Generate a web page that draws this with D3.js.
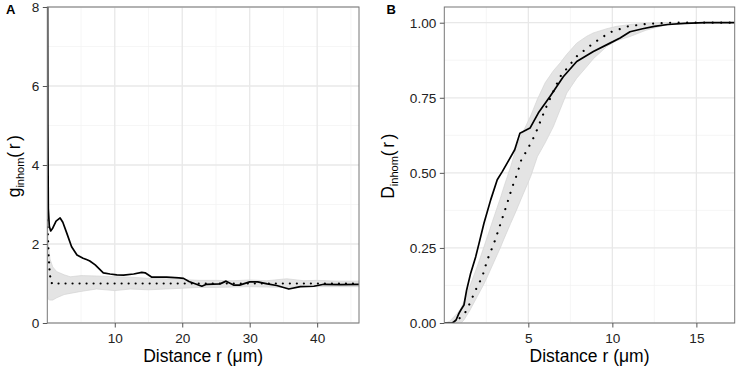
<!DOCTYPE html>
<html>
<head>
<meta charset="utf-8">
<script src="https://cdn.jsdelivr.net/npm/d3@7"></script>
<style>
  body { margin: 0; background: #fff; }
  text { font-family: "Liberation Sans", Arial, sans-serif; }
</style>
</head>
<body>
<script>
var w = 737;  // width of the whole figure
var h = 369;  // height of the whole figure

// ---- Panel A data: g_inhom(r) ----
var rA_obs = [0, 0.08, 0.15, 0.3, 0.5, 0.8, 1.3, 1.9, 2.3, 2.9, 3.6, 4.4, 5.3, 5.9, 6.3, 7.1, 8.3, 9.3, 10.3, 11.3, 12.8, 14.0, 14.5, 15.5, 17.7, 19.5, 20.2, 21.0, 22.9, 23.6, 25.6, 26.5, 27.6, 28.5, 30.0, 31.2, 32.6, 34.0, 35.8, 37.5, 39.5, 41.0, 43.5, 46.2];
var gA_obs = [12, 5.0, 2.9, 2.45, 2.33, 2.4, 2.58, 2.66, 2.55, 2.27, 1.93, 1.72, 1.64, 1.6, 1.57, 1.47, 1.27, 1.24, 1.22, 1.21, 1.24, 1.28, 1.27, 1.16, 1.16, 1.14, 1.13, 1.05, 0.93, 0.98, 0.99, 1.06, 0.96, 0.96, 1.04, 1.04, 0.99, 0.95, 0.86, 0.92, 0.93, 0.98, 0.97, 0.98];

var rA_theo = [0, 0.1, 0.2, 0.35, 0.5, 0.7, 46.2];
var gA_theo = [2.6, 2.2, 1.7, 1.3, 1.08, 1.0, 1.0];

var rA_env = [0, 0.15, 0.4, 0.8, 1.4, 2.5, 3.4, 5, 7.3, 10, 12.3, 15, 17.5, 20, 22.5, 25, 27.5, 30, 32.5, 35.5, 38, 40, 43, 46.2];
var gA_hi = [2.8, 2.0, 1.62, 1.42, 1.3, 1.22, 1.17, 1.2, 1.19, 1.17, 1.16, 1.13, 1.12, 1.1, 1.08, 1.08, 1.07, 1.09, 1.07, 1.12, 1.07, 1.08, 1.06, 1.06];
var gA_lo = [0.72, 0.6, 0.58, 0.58, 0.64, 0.72, 0.75, 0.8, 0.86, 0.82, 0.86, 0.84, 0.86, 0.88, 0.9, 0.9, 0.91, 0.92, 0.91, 0.9, 0.92, 0.92, 0.92, 0.92];

var xTicksA = [10, 20, 30, 40];
var yTicksA = [0, 2, 4, 6, 8];

// ---- Panel B data: D_inhom(r) ----
var rB_obs = [0, 0.5, 0.7, 0.87, 1.0, 1.17, 1.33, 1.57, 1.87, 2.07, 2.36, 2.76, 3.15, 3.45, 3.85, 4.19, 4.5, 5.1, 5.6, 6.29, 7.08, 7.88, 8.87, 9.86, 10.46, 11.05, 11.8, 12.5, 13.3, 14.3, 15.5, 17.28];
var DB_obs = [0, 0, 0.01, 0.032, 0.045, 0.06, 0.11, 0.166, 0.221, 0.266, 0.332, 0.41, 0.477, 0.504, 0.543, 0.577, 0.632, 0.649, 0.70, 0.754, 0.82, 0.871, 0.904, 0.932, 0.949, 0.97, 0.98, 0.988, 0.994, 0.998, 1, 1];

var rB_theo = [0.5, 1.0, 1.2, 1.57, 1.81, 2.26, 2.56, 2.96, 3.26, 3.75, 4.05, 4.35, 4.58, 4.94, 5.4, 5.99, 6.89, 7.88, 8.87, 9.86, 10.95, 12.0, 13.5, 17.28];
var DB_theo = [0, 0.02, 0.03, 0.071, 0.104, 0.154, 0.21, 0.266, 0.316, 0.40, 0.454, 0.499, 0.543, 0.577, 0.627, 0.71, 0.82, 0.888, 0.932, 0.968, 0.988, 0.996, 1, 1];

var rB_env = [0, 0.3, 0.77, 1.0, 1.17, 1.5, 1.96, 2.36, 2.56, 2.96, 3.36, 3.55, 3.95, 4.25, 4.55, 5.14, 5.54, 6.0, 6.49, 6.89, 7.29, 7.88, 8.48, 8.87, 9.67, 10.26, 11.05, 12.0, 13.0, 14.0, 17.28];
var DB_hi = [0, 0.005, 0.032, 0.05, 0.071, 0.12, 0.188, 0.254, 0.287, 0.354, 0.42, 0.454, 0.521, 0.577, 0.62, 0.69, 0.745, 0.80, 0.84, 0.866, 0.895, 0.932, 0.955, 0.966, 0.98, 0.988, 0.994, 0.998, 1, 1, 1];
var DB_lo = [0, 0, 0, 0, 0.01, 0.04, 0.088, 0.13, 0.154, 0.204, 0.254, 0.28, 0.332, 0.37, 0.41, 0.488, 0.554, 0.60, 0.654, 0.71, 0.766, 0.815, 0.854, 0.88, 0.921, 0.94, 0.954, 0.975, 0.99, 0.997, 1];

var xTicksB = [5, 10, 15];
var yTicksB = [0, 0.25, 0.5, 0.75, 1];

var svg = d3.select("body")
            .append("svg")
            .attr("width", w)
            .attr("height", h);

// draws one ggplot-like panel
function drawPanel(p) {
    var x = d3.scaleLinear().domain(p.xDomain).range([p.left, p.right]);
    var y = d3.scaleLinear().domain(p.yDomain).range([p.bottom, p.top]);
    var g = svg.append("g");

    // minor grid
    g.selectAll(".minx").data(p.xMinor).enter().append("line")
        .attr("x1", d => x(d)).attr("x2", d => x(d))
        .attr("y1", p.top).attr("y2", p.bottom)
        .attr("stroke", "#f2f2f2").attr("stroke-width", 0.7);
    g.selectAll(".miny").data(p.yMinor).enter().append("line")
        .attr("x1", p.left).attr("x2", p.right)
        .attr("y1", d => y(d)).attr("y2", d => y(d))
        .attr("stroke", "#f2f2f2").attr("stroke-width", 0.7);
    // major grid
    g.selectAll(".majx").data(p.xTicks).enter().append("line")
        .attr("x1", d => x(d)).attr("x2", d => x(d))
        .attr("y1", p.top).attr("y2", p.bottom)
        .attr("stroke", "#e8e8e8").attr("stroke-width", 1.3);
    g.selectAll(".majy").data(p.yTicks).enter().append("line")
        .attr("x1", p.left).attr("x2", p.right)
        .attr("y1", d => y(d)).attr("y2", d => y(d))
        .attr("stroke", "#e8e8e8").attr("stroke-width", 1.3);

    var clipId = "clip" + p.name;
    svg.append("clipPath").attr("id", clipId).append("rect")
        .attr("x", p.left).attr("y", p.top)
        .attr("width", p.right - p.left).attr("height", p.bottom - p.top);
    var plot = g.append("g").attr("clip-path", "url(#" + clipId + ")");

    // envelope band
    var area = d3.area()
        .x((d, i) => x(p.rEnv[i]))
        .y0((d, i) => y(p.lo[i]))
        .y1((d, i) => y(p.hi[i]));
    plot.append("path")
        .attr("d", area(p.rEnv))
        .attr("fill", "#e4e4e4")
        .attr("stroke", "#d4d4d4")
        .attr("stroke-width", 0.7);

    // theoretical (dotted) curve
    var lineTheo = d3.line()
        .x((d, i) => x(p.rTheo[i]))
        .y((d, i) => y(p.theo[i]));
    plot.append("path")
        .attr("d", lineTheo(p.rTheo))
        .attr("fill", "none")
        .attr("stroke", "#000")
        .attr("stroke-width", 2.2)
        .attr("stroke-linecap", "round")
        .attr("stroke-dasharray", "0.01," + p.dotGap);

    // observed (solid) curve
    var lineObs = d3.line()
        .x((d, i) => x(p.rObs[i]))
        .y((d, i) => y(p.obs[i]));
    plot.append("path")
        .attr("d", lineObs(p.rObs))
        .attr("fill", "none")
        .attr("stroke", "#000")
        .attr("stroke-width", 1.7)
        .attr("stroke-linejoin", "round");

    // panel border
    g.append("rect")
        .attr("x", p.left).attr("y", p.top)
        .attr("width", p.right - p.left).attr("height", p.bottom - p.top)
        .attr("fill", "none").attr("stroke", "#777").attr("stroke-width", 1);

    // axes
    var xAxis = g.append("g")
        .attr("transform", "translate(0," + p.bottom + ")")
        .call(d3.axisBottom(x).tickValues(p.xTicks).tickSize(4.5).tickPadding(5.5).tickFormat(p.xFmt));
    var yAxis = g.append("g")
        .attr("transform", "translate(" + p.left + ",0)")
        .call(d3.axisLeft(y).tickValues(p.yTicks).tickSize(4.5).tickPadding(3.5).tickFormat(p.yFmt));
    [xAxis, yAxis].forEach(function(a) {
        a.select(".domain").remove();
        a.selectAll(".tick line").attr("stroke", "#555");
        a.selectAll("text")
            .attr("fill", "#222")
            .style("font-size", "13.6px")
            .style("font-family", "'Liberation Sans', Arial, sans-serif");
    });

    // x axis title
    svg.append("text")
        .attr("x", (p.left + p.right) / 2)
        .attr("y", 361.5)
        .attr("text-anchor", "middle")
        .style("font-size", "17.5px")
        .text("Distance r (μm)");

    // y axis title with subscript
    var yt = svg.append("text")
        .attr("transform", "translate(" + p.yTitleX + "," + ((p.top + p.bottom) / 2) + ") rotate(-90)")
        .attr("text-anchor", "middle")
        .style("font-size", "17.5px");
    yt.append("tspan").text(p.yLetter);
    yt.append("tspan").attr("dy", 4).style("font-size", "11px").text("inhom");
    yt.append("tspan").attr("dy", -4).style("letter-spacing", "2.5px").text("(r)");

    // panel letter
    svg.append("text")
        .attr("x", p.tagX)
        .attr("y", 13.5)
        .style("font-size", "13px")
        .style("font-weight", "bold")
        .text(p.name);
}

drawPanel({
    name: "A", left: 47.3, right: 359, top: 7, bottom: 323,
    xDomain: [0, 46.2], yDomain: [0, 8],
    xTicks: xTicksA, yTicks: yTicksA,
    xMinor: [5, 15, 25, 35, 45], yMinor: [1, 3, 5, 7],
    xFmt: d3.format("d"), yFmt: d3.format("d"),
    rObs: rA_obs, obs: gA_obs, rTheo: rA_theo, theo: gA_theo,
    rEnv: rA_env, hi: gA_hi, lo: gA_lo,
    dotGap: 7, yLetter: "g", yTitleX: 20, tagX: 6
});

drawPanel({
    name: "B", left: 444.3, right: 734.7, top: 7, bottom: 323,
    xDomain: [0, 17.28], yDomain: [0, 1.0523],
    xTicks: xTicksB, yTicks: yTicksB,
    xMinor: [2.5, 7.5, 12.5], yMinor: [0.125, 0.375, 0.625, 0.875],
    xFmt: d3.format("d"), yFmt: d3.format(".2f"),
    rObs: rB_obs, obs: DB_obs, rTheo: rB_theo, theo: DB_theo,
    rEnv: rB_env, hi: DB_hi, lo: DB_lo,
    dotGap: 8.5, yLetter: "D", yTitleX: 394, tagX: 386.5
});
</script>
</body>
</html>
